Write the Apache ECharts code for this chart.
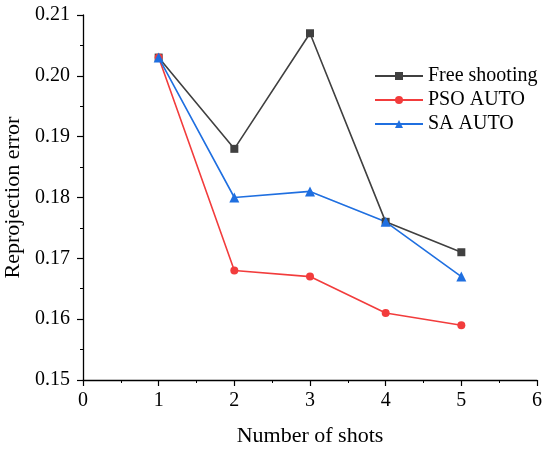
<!DOCTYPE html>
<html>
<head>
<meta charset="utf-8">
<script src="https://cdn.jsdelivr.net/npm/echarts@6/dist/echarts.min.js"></script>
<style>
  html, body { margin: 0; padding: 0; background: #fff; }
  #main { width: 550px; height: 450px; }
</style>
</head>
<body>
<div id="main"></div>
<script>
// 数据
var shots = [1, 2, 3, 4, 5];
var freeShooting = [0.203, 0.188, 0.207, 0.176, 0.171];
var psoAuto = [0.203, 0.168, 0.167, 0.161, 0.159];
var saAuto = [0.203, 0.180, 0.181, 0.176, 0.167];
var seriesNames = ['Free shooting', 'PSO AUTO', 'SA AUTO'];

function pairs(xs, ys) {
    return xs.map(function (x, i) { return [x, ys[i]]; });
}

var font = 'Liberation Serif, Times New Roman, serif';
var myChart = echarts.init(document.getElementById('main'));

function axisCommon() {
    return {
        axisLine: { show: true, lineStyle: { color: '#000', width: 1.3 } },
        axisTick: { show: true, inside: false, length: 6, lineStyle: { color: '#000', width: 1.2 } },
        minorTick: { show: true, splitNumber: 2, length: 3, lineStyle: { color: '#000', width: 1 } },
        splitLine: { show: false },
        axisLabel: { color: '#000', fontFamily: font, fontSize: 20 },
        nameTextStyle: { color: '#000', fontFamily: font, fontSize: 22 }
    };
}

var xAxis = axisCommon();
xAxis.type = 'value';
xAxis.min = 0;
xAxis.max = 6;
xAxis.interval = 1;
xAxis.name = 'Number of shots';
xAxis.nameLocation = 'middle';
xAxis.nameGap = 45;
xAxis.axisLabel.margin = 11;

var yAxis = axisCommon();
yAxis.type = 'value';
yAxis.min = 0.15;
yAxis.max = 0.21;
yAxis.interval = 0.01;
yAxis.name = 'Reprojection error';
yAxis.nameLocation = 'middle';
yAxis.nameGap = 54;
yAxis.axisLabel.margin = 13;
yAxis.axisLabel.formatter = function (v) { return v.toFixed(2); };

myChart.setOption({
    animation: false,
    grid: { left: 83, right: 13, top: 15, bottom: 70, outerBoundsMode: 'none' },
    legend: {
        orient: 'vertical',
        left: 369,
        top: 61,
        itemWidth: 48,
        itemHeight: 10,
        itemGap: 4,
        textStyle: { color: '#000', fontFamily: font, fontSize: 20 },
        data: seriesNames
    },
    xAxis: xAxis,
    yAxis: yAxis,
    series: [
        {
            name: seriesNames[0],
            type: 'line',
            data: pairs(shots, freeShooting),
            symbol: 'rect',
            symbolSize: 8,
            lineStyle: { color: '#404040', width: 1.6 },
            itemStyle: { color: '#404040' }
        },
        {
            name: seriesNames[1],
            type: 'line',
            data: pairs(shots, psoAuto),
            symbol: 'circle',
            symbolSize: 8,
            lineStyle: { color: '#f23c3c', width: 1.6 },
            itemStyle: { color: '#f23c3c' }
        },
        {
            name: seriesNames[2],
            type: 'line',
            data: pairs(shots, saAuto),
            symbol: 'triangle',
            symbolSize: 10,
            lineStyle: { color: '#1f6fe0', width: 1.6 },
            itemStyle: { color: '#1f6fe0' }
        }
    ]
});
</script>
</body>
</html>
